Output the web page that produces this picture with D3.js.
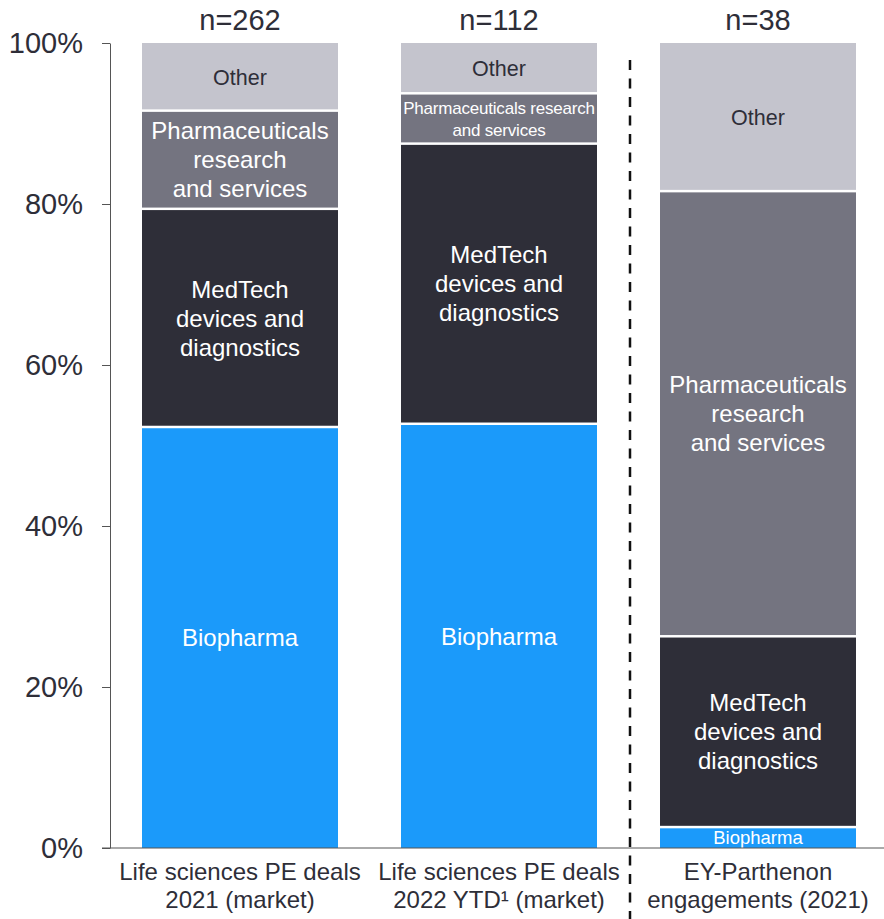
<!DOCTYPE html>
<html><head><meta charset="utf-8">
<script src="https://cdn.jsdelivr.net/npm/d3@7"></script>
<style>body{margin:0;background:#fff}svg{display:block;font-family:"Liberation Sans",Arial,sans-serif}</style>
</head><body><svg id="c" width="884" height="919"></svg>
<script>
const categories = ["Life sciences PE deals\n2021 (market)", "Life sciences PE deals\n2022 YTD¹ (market)", "EY-Parthenon\nengagements (2021)"];
const counts = ["n=262", "n=112", "n=38"];
const segments = ["Biopharma", "MedTech", "Pharma", "Other"];
const biopharma = [52.3, 52.7, 2.6];
const medtech = [27.1, 34.8, 23.7];
const pharma = [12.2, 6.25, 55.3];
const other = [8.4, 6.25, 18.4];
const yTicks = [0, 20, 40, 60, 80, 100];
// labels per segment per bar: [lines, font size, line height]
const segLabels = {
  Biopharma: [[["Biopharma"], 24, 29], [["Biopharma"], 24, 29], [["Biopharma"], 18.5, 22]],
  MedTech: [[["MedTech", "devices and", "diagnostics"], 24, 29], [["MedTech", "devices and", "diagnostics"], 24, 29], [["MedTech", "devices and", "diagnostics"], 24, 29]],
  Pharma: [[["Pharmaceuticals", "research", "and services"], 24, 29], [["Pharmaceuticals research", "and services"], 17, 22], [["Pharmaceuticals", "research", "and services"], 24, 29]],
  Other: [[["Other"], 21.5, 26], [["Other"], 21.5, 26], [["Other"], 21.5, 26]]
};
const colors = {Biopharma: "#1B9AFA", MedTech: "#2E2E38", Pharma: "#747480", Other: "#C4C4CD"};
const textColors = {Biopharma: "#fff", MedTech: "#fff", Pharma: "#fff", Other: "#2E2E38"};

const seriesVals = {Biopharma: biopharma, MedTech: medtech, Pharma: pharma, Other: other};
const data = categories.map((c, i) => {
  const o = {cat: c};
  segments.forEach(s => o[s] = seriesVals[s][i]);
  return o;
});

const svg = d3.select("#c");
const y = d3.scaleLinear().domain([0, 100]).range([848, 43]);
const x = d3.scaleBand().domain(categories).range([110.5, 887.5]).paddingInner(63/259).paddingOuter(63/259/2);

const stacked = d3.stack().keys(segments)(data);

const g = svg.append("g");
stacked.forEach(layer => {
  const key = layer.key;
  g.selectAll(null).data(layer).enter().append("rect")
    .attr("x", d => x(d.data.cat))
    .attr("width", x.bandwidth())
    .attr("y", d => y(d[1]) + (d[1] >= 99.9 ? 0 : 1.25))
    .attr("height", d => Math.max(0, y(d[0]) - y(d[1]) - (d[1] >= 99.9 ? 0 : 1.25) - (d[0] <= 0.01 ? 0 : 1.25)))
    .attr("fill", colors[key]);
  layer.forEach((d, i) => {
    const [lines, fs, lh] = segLabels[key][i];
    const cx = x(d.data.cat) + x.bandwidth() / 2;
    const cy = (y(d[0]) + y(d[1])) / 2;
    const t = svg.append("text").attr("text-anchor", "middle").attr("fill", textColors[key])
      .attr("font-size", fs);
    if (key === "Pharma" && i === 1) t.attr("letter-spacing", -0.2);
    lines.forEach((ln, j) => {
      t.append("tspan").attr("x", cx)
        .attr("y", cy + (j - (lines.length - 1) / 2) * lh + fs * 0.36)
        .text(ln);
    });
  });
});

// y axis
const yAxis = d3.axisLeft(y).tickValues(yTicks).tickFormat(d => d + "%").tickSize(8).tickSizeOuter(0);
const ya = svg.append("g").attr("transform", "translate(110,0)").call(yAxis);
ya.select(".domain").attr("stroke", "#555");
ya.selectAll(".tick line").attr("stroke", "#555");
ya.selectAll(".tick text").attr("font-size", 29).attr("fill", "#2E2E38").attr("x", -27)
  .attr("font-family", "Liberation Sans, Arial, sans-serif");
// baseline
svg.append("line").attr("x1", 102).attr("x2", 884).attr("y1", y(0)).attr("y2", y(0)).attr("stroke", "#555").attr("stroke-width", 1);

// counts
svg.selectAll(null).data(counts).enter().append("text")
  .attr("x", (d, i) => x(categories[i]) + x.bandwidth() / 2)
  .attr("y", 29.5).attr("text-anchor", "middle").attr("font-size", 29).attr("fill", "#2E2E38")
  .text(d => d);

// category labels
categories.forEach(c => {
  const t = svg.append("text").attr("text-anchor", "middle").attr("font-size", 24).attr("fill", "#2E2E38");
  c.split("\n").forEach((ln, j) => {
    t.append("tspan").attr("x", x(c) + x.bandwidth() / 2).attr("y", 880 + j * 28).text(ln);
  });
});

// dashed divider
const xd = (x(categories[1]) + x.bandwidth() + x(categories[2])) / 2 + 1.5;
svg.append("line").attr("x1", xd).attr("x2", xd).attr("y1", 60).attr("y2", 919)
  .attr("stroke", "#111").attr("stroke-width", 2.5).attr("stroke-dasharray", "10,8.5");
</script></body></html>
